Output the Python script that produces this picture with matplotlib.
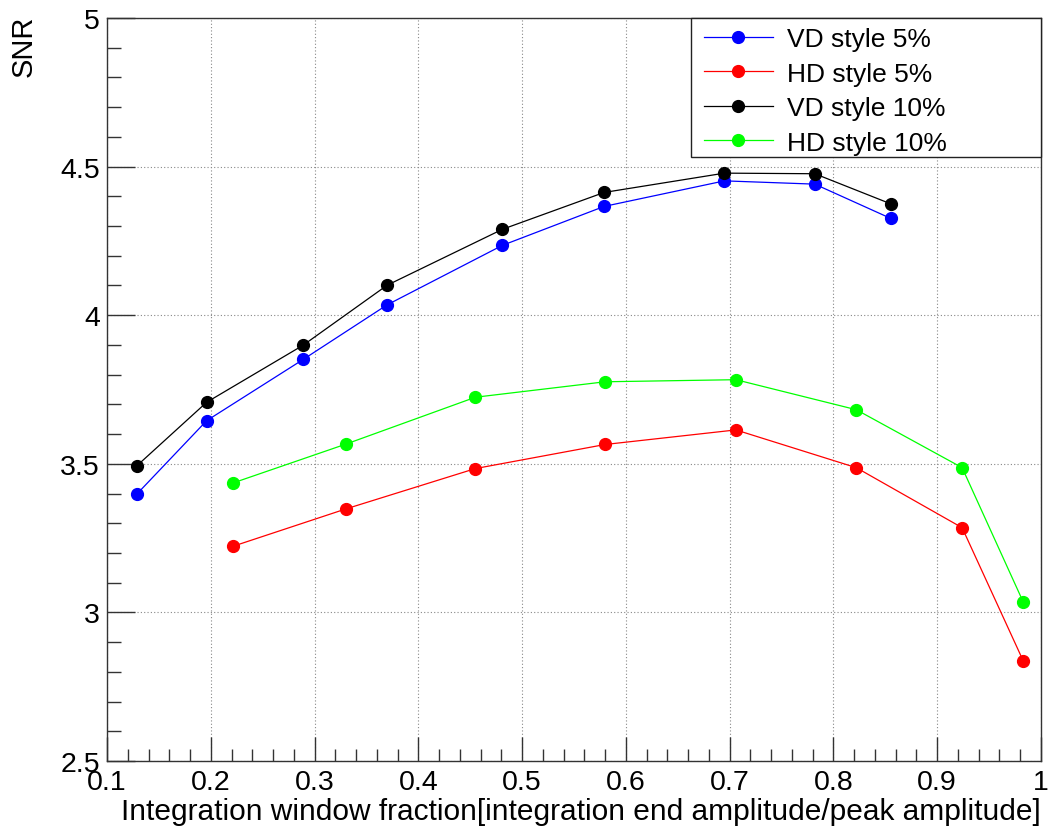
import matplotlib
matplotlib.use("Agg")
import matplotlib.pyplot as plt
from matplotlib.ticker import MultipleLocator, FuncFormatter
from matplotlib.patches import Rectangle

plt.rcParams['font.family'] = ['Liberation Sans', 'DejaVu Sans']

# ---- data ----
x_vd = [0.129, 0.196, 0.289, 0.370, 0.481, 0.579, 0.695, 0.782, 0.855]
vd_5 = [3.399, 3.645, 3.851, 4.035, 4.235, 4.366, 4.452, 4.441, 4.326]
vd_10 = [3.494, 3.707, 3.899, 4.101, 4.289, 4.413, 4.478, 4.476, 4.375]

x_hd = [0.221, 0.330, 0.455, 0.580, 0.706, 0.822, 0.924, 0.983]
hd_5 = [3.222, 3.348, 3.484, 3.565, 3.614, 3.487, 3.285, 2.836]
hd_10 = [3.435, 3.566, 3.724, 3.776, 3.783, 3.682, 3.487, 3.034]

labels = ["VD style 5%", "HD style 5%", "VD style 10%", "HD style 10%"]
colors = ["#0000ff", "#ff0000", "#000000", "#00ff00"]

xlabel = "Integration window fraction[integration end amplitude/peak amplitude]"
ylabel = "SNR"

fig = plt.figure(figsize=(10.48, 8.28), dpi=100)
L, R, T, B = 107, 1041, 19, 762
ax = fig.add_axes([L / 1048, 1 - B / 828, (R - L) / 1048, (B - T) / 828])
W, H = R - L, B - T

series = [(x_vd, vd_5), (x_hd, hd_5), (x_vd, vd_10), (x_hd, hd_10)]
handles = []
for (xs, ys), lab, c in zip(series, labels, colors):
    h, = ax.plot(xs, ys, '-', color=c, lw=0.9, marker='o', ms=8.5,
                 mec=c, mfc=c, label=lab, zorder=3)
    handles.append(h)

ax.set_xlim(0.1, 1.0)
ax.set_ylim(2.5, 5.0)
ax.xaxis.set_major_locator(MultipleLocator(0.1))
ax.xaxis.set_minor_locator(MultipleLocator(0.02))
ax.yaxis.set_major_locator(MultipleLocator(0.5))
ax.yaxis.set_minor_locator(MultipleLocator(0.1))
fmt = FuncFormatter(lambda v, p: ('%g' % round(v, 3)))
ax.xaxis.set_major_formatter(fmt)
ax.yaxis.set_major_formatter(fmt)

ax.tick_params(axis='both', which='both', direction='in', top=False, right=False,
               labelsize=20.5, color='#333333')
ax.tick_params(axis='y', which='major', length=20, width=1, pad=5)
ax.tick_params(axis='y', which='minor', length=10, width=1)
ax.tick_params(axis='x', which='major', length=17, width=1, pad=6)
ax.tick_params(axis='x', which='minor', length=8.5, width=1)

ax.grid(True, which='major', linestyle=(0, (1, 2)), color='#888888', lw=0.8)
ax.set_axisbelow(True)
for s in ax.spines.values():
    s.set_color('#333333')
    s.set_linewidth(1.0)

ax.set_xlabel(xlabel, fontsize=21.5, loc='right')
ax.xaxis.set_label_coords(1.0, (B - 798) / H)
ax.set_ylabel(ylabel, fontsize=21, loc='top')
ax.yaxis.set_label_coords((38 - L) / W, 1.005)

# legend box
x0 = (691 - L) / W
y0 = (B - 158) / H
ax.add_patch(Rectangle((x0, y0), 1 - x0, 1 - y0, transform=ax.transAxes,
                       facecolor='white', edgecolor='#222222', lw=1.0, zorder=5,
                       clip_on=False))
leg = ax.legend(handles=handles, loc='upper left',
                bbox_to_anchor=((704 - L) / W, (B - 28) / H),
                frameon=False, fontsize=19, borderpad=0, borderaxespad=0,
                handlelength=2.6, handletextpad=0.55, labelspacing=0.4,
                numpoints=1)
leg.set_zorder(6)

fig.savefig("out.png", dpi=100)
